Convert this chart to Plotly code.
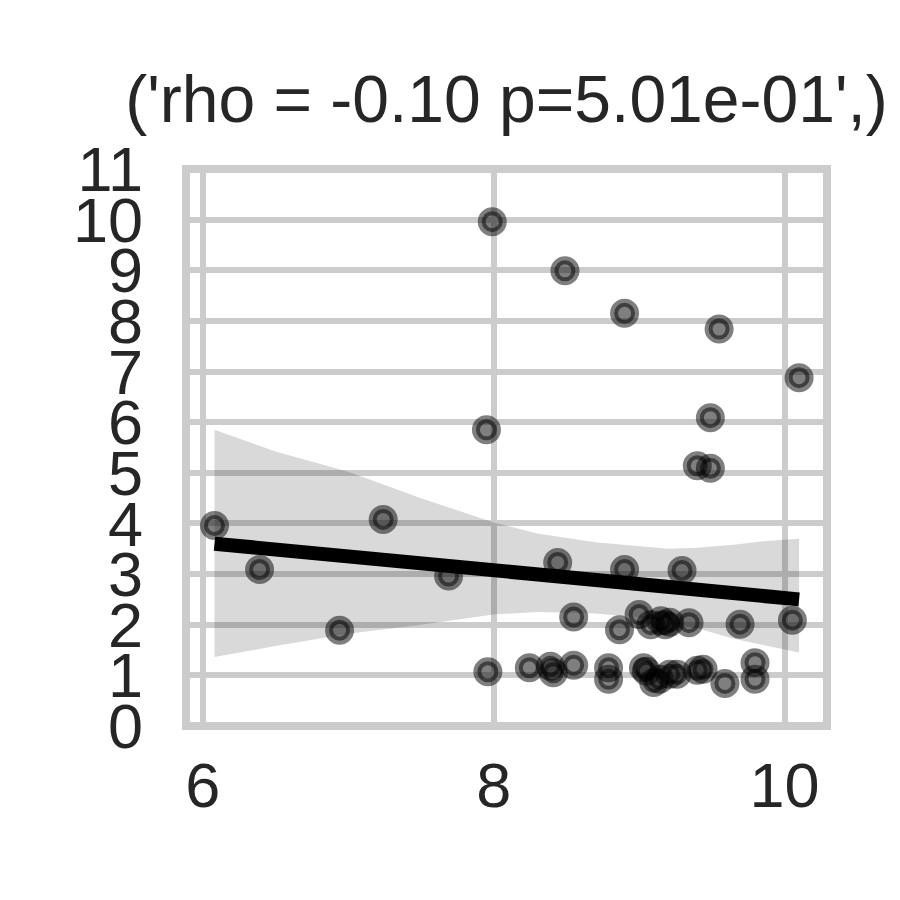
import plotly.graph_objects as go

# ---- data ----
pts_x = [6.08, 6.39, 6.94, 7.24, 7.69, 7.95, 7.96, 7.99, 8.245, 8.39, 8.41, 8.44,
         8.49, 8.55, 8.55, 8.79, 8.79, 8.865, 8.90, 8.90, 9.00, 9.03, 9.05, 9.08,
         9.10, 9.14, 9.15, 9.18, 9.21, 9.21, 9.26, 9.295, 9.343, 9.40, 9.44, 9.40,
         9.49, 9.49, 9.55, 9.59, 9.694, 9.797, 9.797, 10.054, 10.10]
pts_y = [3.96, 3.09, 1.89, 4.08, 2.96, 5.85, 1.07, 9.96, 1.15, 1.18, 1.05, 3.23,
         8.99, 1.20, 2.15, 1.15, 0.92, 1.90, 8.15, 3.09, 2.20, 1.15, 1.08, 2.00,
         0.86, 0.92, 2.08, 2.00, 2.05, 1.02, 1.02, 3.07, 2.04, 1.10, 1.12, 5.14,
         5.09, 6.09, 7.84, 0.84, 2.01, 1.25, 0.92, 2.09, 6.88]

fit_x = [6.08, 10.10]
fit_y = [3.60, 2.50]

band_x = [6.08, 6.5, 7.0, 7.5, 8.0, 8.3, 8.7, 9.0, 9.2, 9.4, 9.65, 9.85, 10.1]
band_upper = [5.85, 5.42, 5.02, 4.50, 4.02, 3.80, 3.63, 3.55, 3.50, 3.52, 3.58, 3.65, 3.70]
band_lower = [1.36, 1.58, 1.82, 2.00, 2.20, 2.25, 2.22, 2.14, 2.04, 1.93, 1.72, 1.60, 1.45]

x_ticks = [6, 8, 10]
y_ticks = list(range(0, 12))
title_text = "('rho = -0.10 p=5.01e-01',)"

FONT = "Liberation Sans, Arial, Helvetica, sans-serif"
TXT = "#262626"
GRID = "#cccccc"

fig = go.Figure()

fig.add_trace(go.Scatter(
    x=band_x + band_x[::-1],
    y=band_upper + band_lower[::-1],
    fill="toself", fillcolor="rgba(0,0,0,0.15)",
    line=dict(width=0), mode="lines", hoverinfo="skip", showlegend=False))

fig.add_trace(go.Scatter(
    x=pts_x, y=pts_y, mode="markers", showlegend=False,
    marker=dict(size=21, color="rgba(0,0,0,0.5)",
                line=dict(width=8, color="rgba(0,0,0,0.5)"))))

fig.add_trace(go.Scatter(
    x=fit_x, y=fit_y, mode="lines", showlegend=False,
    line=dict(color="black", width=14)))

fig.add_shape(type="rect", xref="paper", yref="paper", x0=0, x1=1, y0=0, y1=1,
              line=dict(color=GRID, width=8), layer="above")

fig.update_layout(
    width=900, height=900,
    margin=dict(l=178, r=81, t=161, b=182),
    paper_bgcolor="white", plot_bgcolor="white",
    font=dict(family=FONT, color=TXT, size=63),
    title=dict(text=title_text, x=0.5, xref="paper", xanchor="center",
               y=1 - 114 / 900, yref="container", yanchor="bottom",
               font=dict(family=FONT, size=66, color=TXT)),
    showlegend=False,
)
fig.update_xaxes(range=[5.884, 10.292], tickvals=x_ticks, ticktext=[str(v) for v in x_ticks],
                 showgrid=True, gridcolor=GRID, gridwidth=6, zeroline=False,
                 showline=False, ticks="", ticklabelstandoff=17,
                 tickfont=dict(family=FONT, size=63, color=TXT))
fig.update_yaxes(range=[-0.001, 11.001], tickvals=y_ticks, ticktext=[str(v) for v in y_ticks],
                 showgrid=True, gridcolor=GRID, gridwidth=6, zeroline=False,
                 showline=False, ticks="", ticklabelstandoff=42,
                 tickfont=dict(family=FONT, size=63, color=TXT))

fig.write_html("out.html")
